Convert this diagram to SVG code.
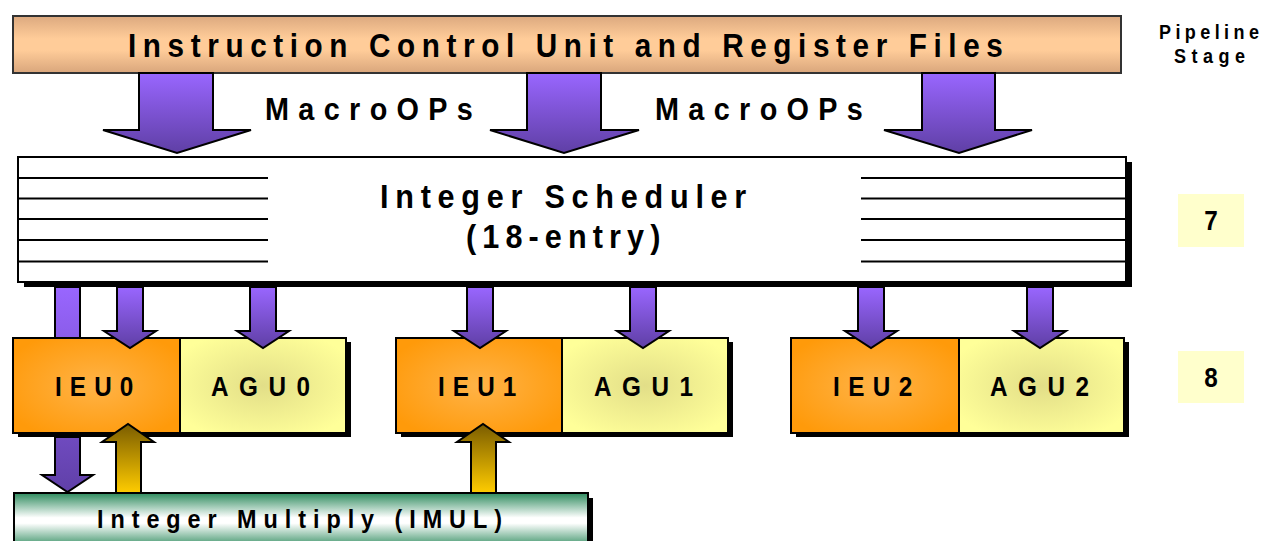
<svg xmlns="http://www.w3.org/2000/svg" width="1264" height="541" viewBox="0 0 1264 541">
<defs>
  <linearGradient id="gTop" x1="0" y1="0" x2="0" y2="1">
    <stop offset="0" stop-color="#DCA97F"/>
    <stop offset="0.4" stop-color="#FFCC99"/>
    <stop offset="0.6" stop-color="#FFCC99"/>
    <stop offset="1" stop-color="#D9A67C"/>
  </linearGradient>
  <linearGradient id="gPurple" x1="0" y1="0" x2="0" y2="1">
    <stop offset="0" stop-color="#9966FF"/>
    <stop offset="1" stop-color="#5F3FA5"/>
  </linearGradient>
  <linearGradient id="gPurpleLong" gradientUnits="userSpaceOnUse" x1="0" y1="287" x2="0" y2="492">
    <stop offset="0" stop-color="#9966FF"/>
    <stop offset="1" stop-color="#6040A8"/>
  </linearGradient>
  <linearGradient id="gGold" x1="0" y1="0" x2="0" y2="1">
    <stop offset="0" stop-color="#7A5C00"/>
    <stop offset="1" stop-color="#FFCC00"/>
  </linearGradient>
  <linearGradient id="gGreen" x1="0" y1="0" x2="0" y2="1">
    <stop offset="0" stop-color="#2E8B5E"/>
    <stop offset="0.45" stop-color="#FFFFFF"/>
    <stop offset="0.55" stop-color="#FFFFFF"/>
    <stop offset="1" stop-color="#2E8B5E"/>
  </linearGradient>
  <radialGradient id="gIEU" cx="0.5" cy="0.5" r="0.6">
    <stop offset="0" stop-color="#FFB347"/>
    <stop offset="1" stop-color="#FF9A0A"/>
  </radialGradient>
  <radialGradient id="gAGU" cx="0.5" cy="0.5" r="0.6">
    <stop offset="0" stop-color="#E2DE88"/>
    <stop offset="1" stop-color="#FFFF99"/>
  </radialGradient>
</defs>
<style>
  text { font-family: 'Liberation Sans', Arial, Helvetica, sans-serif; font-weight: bold; fill: #000; }
  .bord { stroke: #000; stroke-width: 2; }
  .shadow { fill: #000; }
  .ieu { fill: url(#gIEU); stroke: #000; stroke-width: 2; }
  .agu { fill: url(#gAGU); stroke: #000; stroke-width: 2; }
  .line { stroke: #000; stroke-width: 2; fill: none; }
  .pa { fill: url(#gPurple); stroke: #000; stroke-width: 2; stroke-linejoin: miter; }
  .pl { fill: url(#gPurpleLong); stroke: #000; stroke-width: 2; }
  .ga { fill: url(#gGold); stroke: #000; stroke-width: 2; }
  .unit { font-size: 27px; }
  .stage { fill: #FFFFCC; }
</style>

<g id="icu">
  <rect x="13" y="16" width="1108" height="57" fill="url(#gTop)" stroke="#333" stroke-width="2"/>
  <text transform="translate(128 57) scale(0.9 1)" font-size="33" textLength="972" lengthAdjust="spacing">Instruction Control Unit and Register Files</text>
</g>

<g id="pipeline-label">
  <text transform="translate(1159 39) scale(0.9 1)" font-size="20" textLength="111" lengthAdjust="spacing">Pipeline</text>
  <text transform="translate(1174 63) scale(0.9 1)" font-size="20" textLength="79" lengthAdjust="spacing">Stage</text>
</g>

<g id="macroops-labels">
  <text transform="translate(265 120) scale(0.9 1)" font-size="32" textLength="231" lengthAdjust="spacing">MacroOPs</text>
  <text transform="translate(655 120) scale(0.9 1)" font-size="32" textLength="231" lengthAdjust="spacing">MacroOPs</text>
</g>

<g id="scheduler">
  <rect x="24" y="162" width="1108" height="125" class="shadow"/>
  <rect x="18" y="157" width="1108" height="125" fill="#FFFFFF" class="bord"/>
  <path class="line" d="M18 178H268M18 198.5H268M18 219H268M18 240H268M18 261.5H268"/>
  <path class="line" d="M861 178H1126M861 198.5H1126M861 219H1126M861 240H1126M861 261.5H1126"/>
  <text transform="translate(380 208) scale(0.9 1)" font-size="34" textLength="407" lengthAdjust="spacing">Integer Scheduler</text>
  <text transform="translate(466 248) scale(0.9 1)" font-size="34" textLength="216" lengthAdjust="spacing">(18-entry)</text>
</g>

<g id="stage7">
  <rect x="1178" y="194" width="66" height="53" class="stage"/>
  <text transform="translate(1211 230) scale(0.9 1)" font-size="27" text-anchor="middle">7</text>
</g>
<g id="stage8">
  <rect x="1178" y="351" width="66" height="52" class="stage"/>
  <text transform="translate(1211 387) scale(0.9 1)" font-size="27" text-anchor="middle">8</text>
</g>

<g id="unit0">
  <rect x="18" y="342" width="333" height="95" class="shadow"/>
  <rect x="13" y="338" width="167" height="95" class="ieu"/>
  <rect x="180" y="338" width="166" height="95" class="agu"/>
  <text transform="translate(55 396) scale(0.9 1)" class="unit" textLength="87" lengthAdjust="spacing">IEU0</text>
  <text transform="translate(211 396) scale(0.9 1)" class="unit" textLength="110" lengthAdjust="spacing">AGU0</text>
</g>

<g id="unit1">
  <rect x="401" y="342" width="332" height="95" class="shadow"/>
  <rect x="396" y="338" width="166" height="95" class="ieu"/>
  <rect x="562" y="338" width="166" height="95" class="agu"/>
  <text transform="translate(438 396) scale(0.9 1)" class="unit" textLength="87" lengthAdjust="spacing">IEU1</text>
  <text transform="translate(594 396) scale(0.9 1)" class="unit" textLength="110" lengthAdjust="spacing">AGU1</text>
</g>

<g id="unit2">
  <rect x="796" y="342" width="333" height="95" class="shadow"/>
  <rect x="791" y="338" width="168" height="95" class="ieu"/>
  <rect x="959" y="338" width="165" height="95" class="agu"/>
  <text transform="translate(833 396) scale(0.9 1)" class="unit" textLength="88" lengthAdjust="spacing">IEU2</text>
  <text transform="translate(990 396) scale(0.9 1)" class="unit" textLength="110" lengthAdjust="spacing">AGU2</text>
</g>

<g id="imul">
  <rect x="19" y="498" width="574" height="55" class="shadow"/>
  <rect x="14" y="493" width="574" height="55" fill="url(#gGreen)" class="bord"/>
  <text transform="translate(97 528) scale(0.9 1)" font-size="26" textLength="450" lengthAdjust="spacing">Integer Multiply (IMUL)</text>
</g>

<g id="connectors">
  <!-- MacroOP arrows from ICU to scheduler -->
  <path class="pa" d="M139 73H213V130H251L177 153L103 130H139Z"/>
  <path class="pa" d="M527 73H601V130H639L564 153L490 130H527Z"/>
  <path class="pa" d="M922 73H995V130H1032L959 153L884 130H922Z"/>
  <!-- scheduler to units -->
  <path class="pa" d="M117 287H143V331H156L130 348L104 331H117Z"/>
  <path class="pa" d="M250 287H276V331H289L263 348L237 331H250Z"/>
  <path class="pa" d="M467 287H493V331H506L480 348L454 331H467Z"/>
  <path class="pa" d="M630 287H656V331H669L643 348L617 331H630Z"/>
  <path class="pa" d="M858 287H884V331H897L871 348L845 331H858Z"/>
  <path class="pa" d="M1027 287H1053V331H1066L1040 348L1014 331H1027Z"/>
  <!-- scheduler to IMUL (passes behind IEU0) -->
  <path class="pl" d="M55 287H80V338H55Z"/>
  <path class="pl" d="M55 437H80V475H93L67.5 492L42 475H55Z"/>
  <!-- IMUL results up to IEU0 / IEU1 -->
  <path class="ga" d="M116 493V442H102L128 424L154 442H141V493Z"/>
  <path class="ga" d="M471 493V442H457L483 424L509 442H496V493Z"/>
</g>
</svg>
